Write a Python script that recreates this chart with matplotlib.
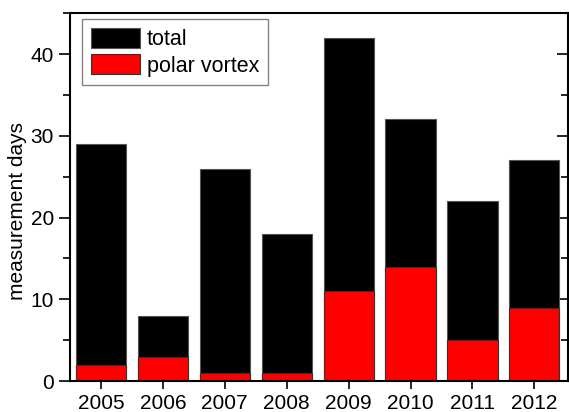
import matplotlib.pyplot as plt
from matplotlib.ticker import MultipleLocator

plt.rcParams["font.family"] = ["Liberation Sans", "DejaVu Sans"]

years = [2005, 2006, 2007, 2008, 2009, 2010, 2011, 2012]
total = [29, 8, 26, 18, 42, 32, 22, 27]
polar_vortex = [2, 3, 1, 1, 11, 14, 5, 9]

fig = plt.figure(figsize=(5.69, 4.12), dpi=100)
ax = fig.add_axes([0.123, 0.075, 0.876, 0.893])

ax.bar(years, total, width=0.81, color="black", edgecolor="#555555", linewidth=0.8, label="total")
ax.bar(years, polar_vortex, width=0.81, color="red", edgecolor="#333333", linewidth=0.8, label="polar vortex")

ax.set_xlim(2004.5, 2012.55)
ax.set_ylim(0, 45)
ax.set_xticks(years)
ax.yaxis.set_major_locator(MultipleLocator(10))
ax.yaxis.set_minor_locator(MultipleLocator(5))
ax.set_ylabel("measurement days", fontsize=15)
ax.yaxis.set_label_coords(-0.086, 0.462)

ax.tick_params(axis="both", labelsize=15, width=1.2)
ax.tick_params(axis="y", which="major", length=8, direction="out")
ax.tick_params(axis="y", which="minor", length=5, width=1.2, direction="out")
ax.tick_params(axis="x", length=6, top=False)
for spine in ax.spines.values():
    spine.set_linewidth(1.5)

# right-side ticks point inward in the original
ry = ax.secondary_yaxis("right")
ry.yaxis.set_major_locator(MultipleLocator(10))
ry.yaxis.set_minor_locator(MultipleLocator(5))
ry.tick_params(which="major", direction="in", length=8, width=1.2, labelright=False)
ry.tick_params(which="minor", direction="in", length=5, width=1.2)

leg = ax.legend(loc="upper left", bbox_to_anchor=(0.024, 0.984), borderaxespad=0,
                fontsize=15.5, frameon=True, fancybox=False,
                edgecolor="#666666", handlelength=2.3, handleheight=1.05,
                handletextpad=0.3, labelspacing=0.2, borderpad=0.4)
leg.get_frame().set_linewidth(1.0)

fig.savefig("out.png", dpi=100)
